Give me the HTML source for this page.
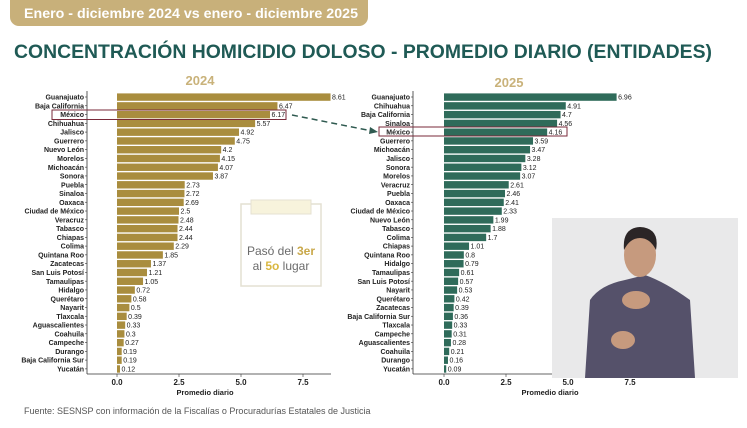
<!DOCTYPE html>
<html><head><meta charset="utf-8"><style>
html,body{margin:0;padding:0;background:#fff}
body{width:747px;height:423px;overflow:hidden;font-family:"Liberation Sans",sans-serif}
</style></head><body>
<svg id="s" width="747" height="423" xmlns="http://www.w3.org/2000/svg" font-family="Liberation Sans, sans-serif">
<rect x="0" y="0" width="747" height="423" fill="#ffffff"/>
<rect x="10" y="-10" width="358" height="36" rx="9" fill="#c8b07a"/>
<text x="24" y="18" font-size="14" font-weight="bold" fill="#fff" textLength="334" lengthAdjust="spacingAndGlyphs">Enero - diciembre  2024 vs enero - diciembre 2025</text>
<text x="14" y="58" font-size="19.5" font-weight="bold" fill="#1f5a55" textLength="698" lengthAdjust="spacingAndGlyphs">CONCENTRACIÓN HOMICIDIO DOLOSO - PROMEDIO DIARIO (ENTIDADES)</text>
<text x="200" y="85" font-size="13" font-weight="bold" fill="#c9b27a" text-anchor="middle">2024</text>
<text x="509" y="87" font-size="13" font-weight="bold" fill="#c9b27a" text-anchor="middle">2025</text>
<g id="g"></g>
<rect x="241" y="204" width="80" height="82" fill="#fff" stroke="#e4e0d2" stroke-width="1.5"/>
<rect x="251" y="200" width="60" height="14" fill="#f7f3dc" stroke="#e4e0d2"/>
<text x="281" y="255" font-size="12" fill="#6b6b6b" text-anchor="middle">Pasó del <tspan font-weight="bold" fill="#c9a84a">3er</tspan></text>
<text x="281" y="270" font-size="12" fill="#6b6b6b" text-anchor="middle">al <tspan font-weight="bold" fill="#d9b740">5o</tspan> lugar</text>
<line x1="292" y1="115" x2="372" y2="131" stroke="#2f5a50" stroke-width="1.5" stroke-dasharray="6,4"/>
<polygon points="378,132 370,127 369,134" fill="#2f5a50"/>
<rect x="52" y="110" width="234" height="9.5" fill="none" stroke="#7a2a3a" stroke-width="1"/>
<rect x="379" y="127" width="188" height="9" fill="none" stroke="#7a2a3a" stroke-width="1"/>
<text x="24" y="414" font-size="9" fill="#555">Fuente: SESNSP con información de la Fiscalías o Procuradurías Estatales de Justicia</text>
<rect x="552" y="218" width="186" height="160" fill="#e9e9ea"/>
<path d="M585 378 L590 300 Q600 285 625 280 L645 275 Q665 282 690 300 L695 378 Z" fill="#55516a"/>
<ellipse cx="640" cy="255" rx="16" ry="22" fill="#c69a7e"/>
<path d="M624 250 Q622 228 640 227 Q660 228 656 250 Q650 238 640 238 Q630 238 624 250Z" fill="#2b2526"/>
<ellipse cx="636" cy="300" rx="14" ry="9" fill="#c69a7e"/>
<ellipse cx="623" cy="340" rx="12" ry="9" fill="#c69a7e"/>
</svg>
<script>
const L=[["Guanajuato",8.61],["Baja California",6.47],["México",6.17],["Chihuahua",5.57],["Jalisco",4.92],["Guerrero",4.75],["Nuevo León",4.2],["Morelos",4.15],["Michoacán",4.07],["Sonora",3.87],["Puebla",2.73],["Sinaloa",2.72],["Oaxaca",2.69],["Ciudad de México",2.5],["Veracruz",2.48],["Tabasco",2.44],["Chiapas",2.44],["Colima",2.29],["Quintana Roo",1.85],["Zacatecas",1.37],["San Luis Potosí",1.21],["Tamaulipas",1.05],["Hidalgo",0.72],["Querétaro",0.58],["Nayarit",0.5],["Tlaxcala",0.39],["Aguascalientes",0.33],["Coahuila",0.3],["Campeche",0.27],["Durango",0.19],["Baja California Sur",0.19],["Yucatán",0.12]];
const R=[["Guanajuato",6.96],["Chihuahua",4.91],["Baja California",4.7],["Sinaloa",4.56],["México",4.16],["Guerrero",3.59],["Michoacán",3.47],["Jalisco",3.28],["Sonora",3.12],["Morelos",3.07],["Veracruz",2.61],["Puebla",2.46],["Oaxaca",2.41],["Ciudad de México",2.33],["Nuevo León",1.99],["Tabasco",1.88],["Colima",1.7],["Chiapas",1.01],["Quintana Roo",0.8],["Hidalgo",0.79],["Tamaulipas",0.61],["San Luis Potosí",0.57],["Nayarit",0.53],["Querétaro",0.42],["Zacatecas",0.39],["Baja California Sur",0.36],["Tlaxcala",0.33],["Campeche",0.31],["Aguascalientes",0.28],["Coahuila",0.21],["Durango",0.16],["Yucatán",0.09]];
let h="";const k=24.8,pitch=8.77;
function chart(d,ax,x0,col,tx){
 h+=`<line x1="${ax}" y1="91" x2="${ax}" y2="374" stroke="#333" stroke-width="0.8"/>`;
 h+=`<line x1="${ax}" y1="374" x2="${ax+244}" y2="374" stroke="#333" stroke-width="0.8"/>`;
 d.forEach((r,i)=>{const y=97+i*pitch;const w=r[1]*k;
  h+=`<rect x="${x0}" y="${y-3.6}" width="${w}" height="7.4" fill="${col}"/>`;
  h+=`<line x1="${ax-2}" y1="${y}" x2="${ax}" y2="${y}" stroke="#333" stroke-width="0.6"/>`;
  h+=`<text x="${ax-3}" y="${y+2.6}" font-size="7" font-weight="bold" fill="#222" text-anchor="end">${r[0]}</text>`;
  h+=`<text x="${x0+w+1.5}" y="${y+2.6}" font-size="7" fill="#222">${r[1]}</text>`;});
 [0,2.5,5,7.5].forEach(v=>{const x=x0+v*k;h+=`<line x1="${x}" y1="374" x2="${x}" y2="377" stroke="#333" stroke-width="0.6"/><text x="${x}" y="385" font-size="8" font-weight="bold" fill="#222" text-anchor="middle">${v.toFixed(1)}</text>`;});
 h+=`<text x="${tx}" y="395" font-size="7.5" font-weight="bold" fill="#222" text-anchor="middle">Promedio diario</text>`;
}
chart(L,87,117,"#a98d3e",205);
chart(R,413,444,"#2f6b5a",550);
document.getElementById("g").innerHTML=h;
</script>
</body></html>
